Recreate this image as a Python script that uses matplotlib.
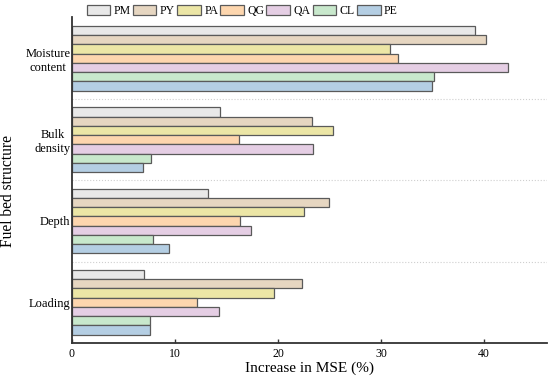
import matplotlib
matplotlib.use('Agg')
import matplotlib.pyplot as plt
import numpy as np

plt.rcParams['font.family'] = ['Liberation Serif', 'DejaVu Serif']

# bed structure groups, bottom to top
groups = ['Loading', 'Depth', 'Bulk\ndensity', 'Moisture\ncontent']
species = ['PM', 'PY', 'PA', 'QG', 'QA', 'CL', 'PE']
colors = ['#e8e8e8', '#e6d6c1', '#ece6a6', '#fdd6ae', '#e5cee4', '#c8e8cc', '#b4cee3']

# increase in MSE (%) per species, groups in same order as above
PM = [7.0, 13.2, 14.4, 39.1]
PY = [22.3, 25.0, 23.3, 40.2]
PA = [19.6, 22.5, 25.3, 30.9]
QG = [12.1, 16.3, 16.2, 31.7]
QA = [14.3, 17.4, 23.4, 42.3]
CL = [7.6, 7.9, 7.7, 35.2]
PE = [7.6, 9.4, 6.9, 35.0]
vals = [PM, PY, PA, QG, QA, CL, PE]

fig = plt.figure(figsize=(5.5, 3.81), dpi=100)
ax = fig.add_axes([0.1309, 0.1005, 0.8631, 0.8541])

pitch = 8.8
centers = np.arange(len(groups)) * pitch
for i, (sp, v, c) in enumerate(zip(species, vals, colors)):
    ax.barh(centers + 3 - i, v, height=1.0, color=c, edgecolor='#5a5a5a',
            linewidth=0.9, label=sp)

# dotted separators between groups
for k in range(len(groups) - 1):
    ax.axhline(centers[k] + pitch / 2, color='#cfcfcf', ls=':', lw=0.8, zorder=0)

ax.set_xlim(0, 46.1)
ax.set_ylim(-4.37, centers[-1] + 4.44)
ax.set_xticks([0, 10, 20, 30, 40])
ax.set_yticks(centers)
ax.set_yticklabels(groups)
for lab in ax.get_yticklabels():
    lab.set_multialignment('center')
ax.tick_params(axis='y', length=0, pad=1, labelsize=9)
ax.tick_params(axis='x', direction='in', length=3, width=1, labelsize=8.5,
               pad=4, color='#333333')

for s in ['top', 'right']:
    ax.spines[s].set_visible(False)
for s in ['left', 'bottom']:
    ax.spines[s].set_color('#333333')
    ax.spines[s].set_linewidth(1.3)

ax.set_xlabel('Increase in MSE (%)', fontsize=11, labelpad=1)
ax.set_ylabel('Fuel bed structure', fontsize=11.2)
ax.yaxis.set_label_coords(-0.117, 0.466)

fig.legend(loc='upper left', bbox_to_anchor=(0.151, 0.997), ncol=7, frameon=False,
           fontsize=8.5, handlelength=2.0, handleheight=1.0, handletextpad=0.3,
           columnspacing=0.17, borderpad=0.3, borderaxespad=0)

fig.savefig('out.png', dpi=100)
